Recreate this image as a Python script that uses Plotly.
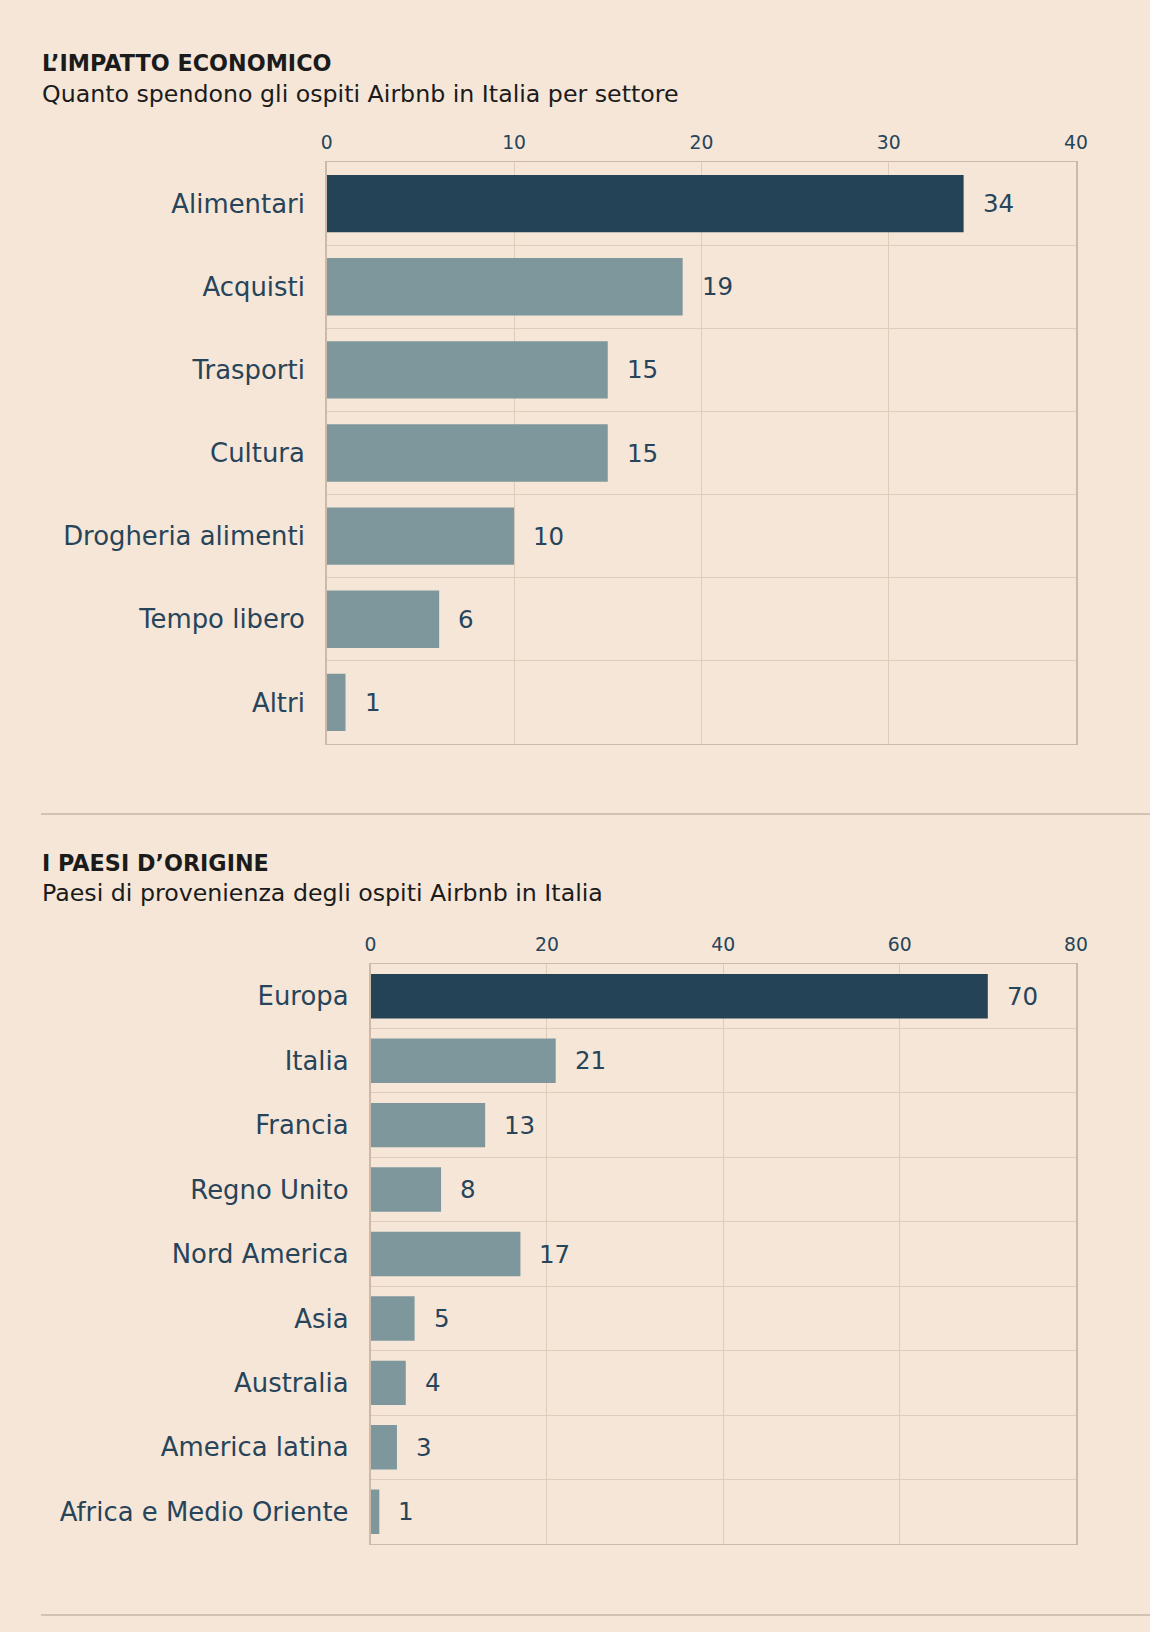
import plotly.graph_objects as go

# ---- data ----
sector_labels = ["Alimentari", "Acquisti", "Trasporti", "Cultura",
                 "Drogheria alimenti", "Tempo libero", "Altri"]
sector_values = [34, 19, 15, 15, 10, 6, 1]

origin_labels = ["Europa", "Italia", "Francia", "Regno Unito", "Nord America",
                 "Asia", "Australia", "America latina", "Africa e Medio Oriente"]
origin_values = [70, 21, 13, 8, 17, 5, 4, 3, 1]

sector_ticks = [0, 10, 20, 30, 40]
origin_ticks = [0, 20, 40, 60, 80]

# ---- style ----
BG = "#F5E6D7"
DARK = "#244357"
LIGHT = "#7E979D"
GRID = "#DFCDBA"
AXIS = "#CDB9A6"
TEXT = "#27445A"
TITLE = "#1B1B1B"
FONT = "DejaVu Sans"
W, H = 1150, 1632


def colors_for(n):
    return [DARK] + [LIGHT] * (n - 1)


fig = go.Figure()

fig.add_trace(go.Bar(
    x=sector_values, y=sector_labels, orientation="h",
    marker=dict(color=colors_for(len(sector_values)), line=dict(width=0)),
    xaxis="x", yaxis="y", hoverinfo="x+y", showlegend=False,
))
fig.add_trace(go.Bar(
    x=origin_values, y=origin_labels, orientation="h",
    marker=dict(color=colors_for(len(origin_values)), line=dict(width=0)),
    xaxis="x2", yaxis="y2", hoverinfo="x+y", showlegend=False,
))

annotations = []
for lab, v in zip(sector_labels, sector_values):
    annotations.append(dict(x=v, y=lab, xref="x", yref="y", text=str(v),
                            showarrow=False, xanchor="left", xshift=17,
                            font=dict(family=FONT, size=24.5, color=TEXT)))
for lab, v in zip(origin_labels, origin_values):
    annotations.append(dict(x=v, y=lab, xref="x2", yref="y2", text=str(v),
                            showarrow=False, xanchor="left", xshift=17,
                            font=dict(family=FONT, size=24.5, color=TEXT)))


def py(pix):
    return 1 - pix / H


def title_ann(text, ypix, bold):
    return dict(x=40 / W, y=py(ypix), xref="paper", yref="paper", text=text,
                showarrow=False, xanchor="left", yanchor="middle",
                font=dict(family=FONT, size=22.3 if bold else 23.7, color=TITLE,
                          weight=800 if bold else 400))


annotations += [
    title_ann("L’IMPATTO ECONOMICO", 63, True),
    title_ann("Quanto spendono gli ospiti Airbnb in Italia per settore", 94, False),
    title_ann("I PAESI D’ORIGINE", 863, True),
    title_ann("Paesi di provenienza degli ospiti Airbnb in Italia", 893, False),
]

xaxis_common = dict(side="top", showgrid=True, gridcolor=GRID, gridwidth=1,
                    zeroline=False, showline=True, linecolor=AXIS, linewidth=1,
                    mirror=True, ticks="", ticklabelstandoff=4, automargin=False,
                    tickfont=dict(family=FONT, size=18.8, color=TEXT),
                    fixedrange=True)
yaxis_common = dict(autorange="reversed", type="category", tickson="boundaries",
                    showgrid=True, gridcolor=GRID, gridwidth=1, showline=True,
                    linecolor=AXIS, linewidth=1.5, mirror=True, ticks="",
                    ticklabelstandoff=15, automargin=False,
                    tickfont=dict(family=FONT, size=25.9, color=TEXT),
                    fixedrange=True)

fig.update_layout(
    width=W, height=H, autosize=False,
    paper_bgcolor=BG, plot_bgcolor=BG,
    margin=dict(l=0, r=0, t=0, b=0, pad=0, autoexpand=False),
    bargap=0.31,
    xaxis=dict(domain=[326.8 / W, 1076 / W], anchor="y", range=[0, 40],
               tickvals=sector_ticks, **xaxis_common),
    yaxis=dict(domain=[py(744), py(162)], anchor="x", **yaxis_common),
    xaxis2=dict(domain=[370.5 / W, 1076 / W], anchor="y2", range=[0, 80],
                tickvals=origin_ticks, **xaxis_common),
    yaxis2=dict(domain=[py(1544), py(964)], anchor="x2", **yaxis_common),
    annotations=annotations,
    shapes=[
        dict(type="line", xref="paper", yref="paper", x0=41 / W, x1=1,
             y0=py(814), y1=py(814), line=dict(color="#D2C2B2", width=2)),
        dict(type="line", xref="paper", yref="paper", x0=41 / W, x1=1,
             y0=py(1615), y1=py(1615), line=dict(color="#D2C2B2", width=2)),
    ],
)

fig.write_html("out.html", config={"displayModeBar": False, "responsive": False},
               post_script="document.body.style.margin='0';"
                           "document.body.style.overflow='hidden';"
                           "document.body.style.background='" + BG + "';")
